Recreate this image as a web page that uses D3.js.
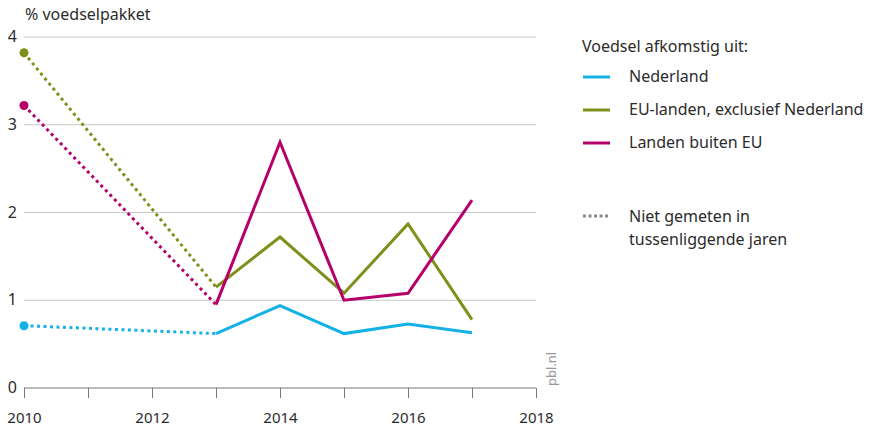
<!DOCTYPE html>
<html>
<head>
<meta charset="utf-8">
<script src="https://cdn.jsdelivr.net/npm/d3@7"></script>
<style>
	body { margin: 0; background: #fff; }
	svg text { font-family: "Noto Sans", sans-serif; fill: #2b2b2b; }
</style>
</head>
<body>
<div id="vis"></div>
<script>

var years = [2010, 2013, 2014, 2015, 2016, 2017];
var nederland = [0.71, 0.62, 0.94, 0.62, 0.73, 0.63];
var euLanden = [3.82, 1.15, 1.72, 1.08, 1.87, 0.78];
var buitenEU = [3.22, 0.95, 2.80, 1.00, 1.08, 2.14];

var seriesNames = ["Nederland", "EU-landen, exclusief Nederland", "Landen buiten EU"];
var seriesColours = ["#14b1e7", "#7f8f1c", "#b60069"];
var yTicks = [0, 1, 2, 3, 4];
var xTicks = [2010, 2012, 2014, 2016, 2018];

var w = 869, h = 428;

var svg = d3.select("#vis").append("svg")
.attr("width", w)
.attr("height", h);

var x = d3.scaleLinear().domain([2010, 2018]).range([24, 536]);
var y = d3.scaleLinear().domain([0, 4]).range([388, 37]);

// gridlines
svg.append("g")
.selectAll("line")
.data(yTicks.filter(function (d) { return d > 0; }))
.enter()
.append("line")
.attr("x1", x(2010))
.attr("x2", x(2018))
.attr("y1", function (d) { return y(d); })
.attr("y2", function (d) { return y(d); })
.attr("stroke", "#c8c8c8")
.attr("stroke-width", 1);

// y labels
svg.append("g")
.selectAll("text")
.data(yTicks)
.enter()
.append("text")
.attr("x", 17)
.attr("y", function (d) { return y(d) + 5; })
.attr("text-anchor", "end")
.attr("font-size", 16)
.text(function (d) { return d; });

svg.append("text")
.attr("x", 25)
.attr("y", 20)
.attr("font-size", 16)
.text("% voedselpakket");

// x axis
var xAxis = d3.axisBottom(x)
.tickValues(d3.range(2010, 2019))
.tickSize(10)
.tickFormat(function (d) { return xTicks.indexOf(d) > -1 ? d : ""; });

var ax = svg.append("g")
.attr("transform", "translate(0," + y(0) + ")")
.call(xAxis);

ax.select(".domain").attr("stroke", "#777").attr("d", "M" + x(2010) + ",0H" + x(2018));
ax.selectAll(".tick line").attr("stroke", "#777");
ax.selectAll(".tick text")
.attr("font-size", 15)
.attr("font-family", "Noto Sans, sans-serif")
.attr("fill", "#2b2b2b")
.attr("y", 24)
.attr("dy", "0.71em");

svg.append("text")
.attr("transform", "translate(556,386) rotate(-90)")
.attr("font-size", 13)
.style("fill", "#999")
.text("pbl.nl");

// series
var allData = [nederland, euLanden, buitenEU];
var line = d3.line()
.x(function (d, i) { return x(d.year); })
.y(function (d) { return y(d.value); });

allData.forEach(function (vals, s) {
	var pts = years.map(function (yr, i) { return { year: yr, value: vals[i] }; });

	svg.append("path")
	.attr("d", line(pts.slice(0, 2)))
	.attr("fill", "none")
	.attr("stroke", seriesColours[s])
	.attr("stroke-width", 3)
	.attr("stroke-dasharray", "3,3.5");

	svg.append("path")
	.attr("d", line(pts.slice(1)))
	.attr("fill", "none")
	.attr("stroke", seriesColours[s])
	.attr("stroke-width", 3);

	svg.append("circle")
	.attr("cx", x(pts[0].year))
	.attr("cy", y(pts[0].value))
	.attr("r", 4.5)
	.attr("fill", seriesColours[s]);
});

// legend
var legend = svg.append("g");

legend.append("text")
.attr("x", 582)
.attr("y", 52)
.attr("font-size", 16)
.text("Voedsel afkomstig uit:");

var key = legend.selectAll(".key")
.data(seriesNames)
.enter()
.append("g")
.attr("transform", function (d, i) { return "translate(583," + (77 + i * 33) + ")"; });

key.append("line")
.attr("x1", 0)
.attr("x2", 27)
.attr("stroke", function (d, i) { return seriesColours[i]; })
.attr("stroke-width", 3);

key.append("text")
.attr("x", 46)
.attr("y", 5)
.attr("font-size", 16)
.text(function (d) { return d; });

legend.append("line")
.attr("x1", 583)
.attr("x2", 610)
.attr("y1", 216)
.attr("y2", 216)
.attr("stroke", "#888")
.attr("stroke-width", 3)
.attr("stroke-dasharray", "3,2.5");

legend.append("text")
.attr("x", 629)
.attr("y", 222)
.attr("font-size", 16)
.text("Niet gemeten in");

legend.append("text")
.attr("x", 629)
.attr("y", 245)
.attr("font-size", 16)
.text("tussenliggende jaren");

</script>
</body>
</html>
